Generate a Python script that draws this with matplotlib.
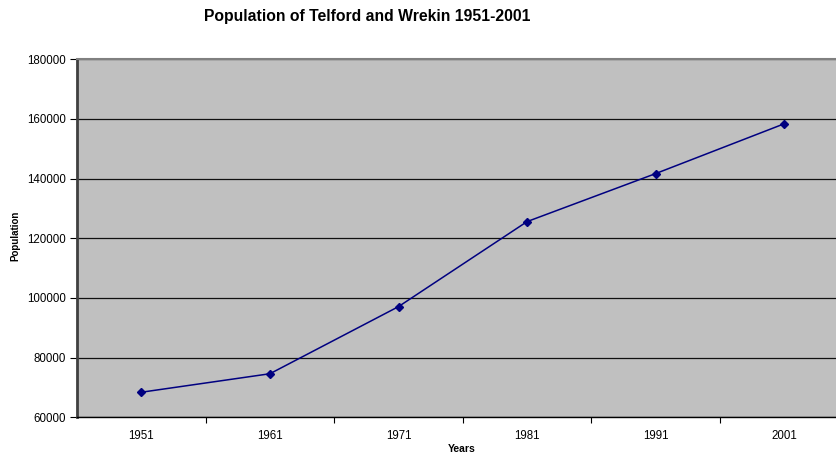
import matplotlib
matplotlib.use("Agg")
import matplotlib.pyplot as plt
import numpy as np

years = ["1951", "1961", "1971", "1981", "1991", "2001"]
population = [68400, 74600, 97100, 125600, 141700, 158400]
yticks = [60000, 80000, 100000, 120000, 140000, 160000, 180000]

plt.rcParams['font.family'] = ['Liberation Sans', 'DejaVu Sans']

W, H = 836, 454
fig = plt.figure(figsize=(W / 100, H / 100), dpi=100)
left, right, top, bottom = 77, 848.6, 59.3, 417.3
ax = fig.add_axes([left / W, (H - bottom) / H, (right - left) / W, (bottom - top) / H])
ax.set_facecolor('#C0C0C0')

x = np.arange(len(years))
ax.plot(x, population, color='#000080', lw=1.1, marker='D', markersize=4.5,
        markerfacecolor='#000080', markeredgecolor='#000080', zorder=3)

ax.set_xlim(-0.5, len(years) - 0.5)
ax.set_ylim(60000, 180000)
ax.set_yticks(yticks)
ax.set_yticklabels([str(v) for v in yticks], fontsize=8.3)
ax.yaxis.grid(True, color='#111111', lw=0.9)
ax.set_axisbelow(True)

ax.set_xticks(x)
ax.set_xticklabels(years, fontsize=8.3)
ax.set_xticks(np.arange(len(years) - 1) + 0.5, minor=True)
ax.tick_params(axis='x', which='major', length=0, pad=9)
ax.tick_params(axis='x', which='minor', length=4, color='black', width=0.8)
ax.tick_params(axis='y', length=5, color='black', width=0.8, pad=3)

ax.spines['left'].set_color('#404040')
ax.spines['left'].set_linewidth(2)
ax.spines['bottom'].set_color('black')
ax.spines['bottom'].set_linewidth(1)
ax.spines['top'].set_color('#808080')
ax.spines['top'].set_linewidth(1.5)
ax.spines['right'].set_visible(False)

fig.text(462 / W, 1 - 449 / H, 'Years', ha='center', va='center',
         fontsize=7.5, fontweight='bold')
fig.text(15 / W, 1 - 236 / H, 'Population', ha='center', va='center',
         rotation=90, fontsize=7, fontweight='bold')

fig.text(367 / W, 1 - 17 / H, 'Population of Telford and Wrekin 1951-2001',
         ha='center', va='center', fontsize=11.3, fontweight='bold')

fig.savefig('out.png', dpi=100)
